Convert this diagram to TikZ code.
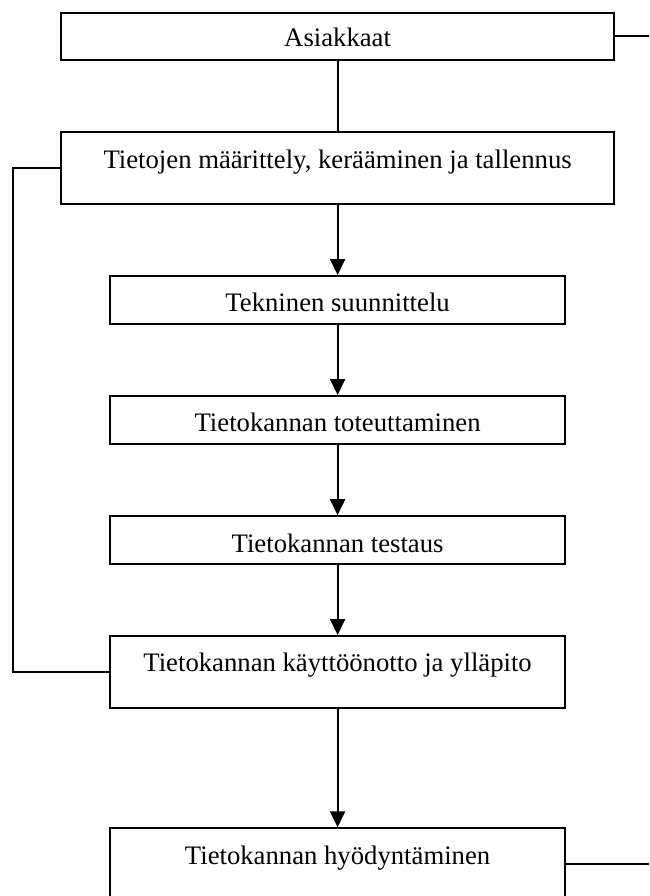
\documentclass[tikz,border=0pt]{standalone}
\usepackage{fontspec}
\setmainfont{Liberation Serif}
\usetikzlibrary{arrows.meta}
\usetikzlibrary{calc}
\tikzset{
  stage/.style={draw, line width=1.9pt, inner sep=0pt, anchor=north,
    text height=36pt, font=\fontsize{26.7}{31}\selectfont},
  wide/.style={stage, minimum width=553pt},
  narrow/.style={stage, minimum width=455.5pt},
  flow/.style={line width=1.9pt, -{Triangle[width=15pt,length=16pt]}},
  link/.style={line width=1.9pt}
}

\begin{document}
\begin{tikzpicture}[x=1pt,y=-1pt]
\def\cx{337.6};
\clip (0,0) rectangle (649,896);
\coordinate (fb) at (13.3,0);
\coordinate (re) at (649,0);
\node[wide, text height=33.5pt, text depth=14pt] (asiakkaat) at (\cx,11.7) {Asiakkaat};
\node[wide, text depth=35.5pt] (maarittely) at (\cx,131.5) {Tietojen määrittely, kerääminen ja tallennus};
\node[narrow, text depth=12pt] (tekninen) at (\cx,275) {Tekninen suunnittelu};
\node[narrow, text depth=12pt] (toteutus) at (\cx,395) {Tietokannan toteuttaminen};
\node[narrow, text depth=12pt] (testaus) at (\cx,515.2) {Tietokannan testaus};
\node[narrow, text depth=36pt] (kaytto) at (\cx,635) {Tietokannan käyttöönotto ja ylläpito};
\node[narrow, text depth=36pt] (hyoty) at (\cx,827.3) {Tietokannan hyödyntäminen};
\draw[link] (asiakkaat.south) -- (maarittely.north);
\draw[flow] (maarittely.south) -- (tekninen.north);
\draw[flow] (tekninen.south) -- (toteutus.north);
\draw[flow] (toteutus.south) -- (testaus.north);
\draw[flow] (testaus.south) -- (kaytto.north);
\draw[flow] (kaytto.south) -- (hyoty.north);
% paluu
\draw[link] (maarittely.west) -- (maarittely.west -| fb) |- (kaytto.west);
\draw[link] (asiakkaat.east) -- (asiakkaat.east -| re);
\draw[link] (hyoty.east) -- (hyoty.east -| re);
\end{tikzpicture}
\end{document}
